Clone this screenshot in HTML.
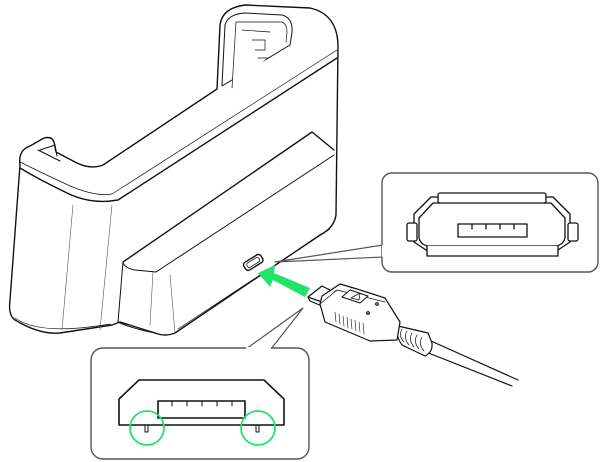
<!DOCTYPE html>
<html><head><meta charset="utf-8"><style>
html,body{margin:0;padding:0;background:#fff;}
svg{display:block;}
</style></head><body>
<svg width="600" height="462" viewBox="0 0 600 462" xmlns="http://www.w3.org/2000/svg" fill="none" stroke="#111" stroke-linejoin="round" stroke-linecap="round">
<!-- cradle -->
<g stroke-width="1.4" fill="#fff">
<path d="M20,165 Q18,150 30,146 L44,138 Q52,136 54,142 L56,152 L75,162 Q90,170 103,165 L217,89 L220,25 Q222,8 245,5 L310,8 Q337,14 338,45 L336,215 Q334,228 320,235 L175,333 Q165,337 155,333 L120,322 L112,325 L60,333 Q40,335 15,320 Q8,315 10,300 Z"/>
<!-- back arm slot -->
<path d="M222,85 L225,25 Q228,14 245,13 L282,15 Q293,18 292,32 L290,45 L222,86" stroke-width="1"/>
<path d="M232,88 L236,22 L282,22 Q287,24 287,32 L286,42" stroke-width="0.7"/>
<path d="M242,30 L270,32 M252,40 L265,40 L265,50 L255,50 M258,58 L268,58" stroke-width="0.7"/>
<!-- rim lines -->
<path d="M20,168 Q40,180 65,192 Q90,205 118,200 L337,58" fill="none"/>
<path d="M20,162 Q40,172 68,185 Q95,197 112,194 L337,50" stroke-width="0.7" fill="none"/>
<path d="M40,150 L55,145 L57,156" stroke-width="1" fill="none"/>
<path d="M38,150 L60,161" stroke-width="1" fill="none"/>
<!-- lower block -->
<path d="M123,262 L312,132 L334,150" fill="none"/>
<path d="M123,262 Q124,268 135,270 L156,272 L334,155" stroke-width="1" fill="none"/>
<path d="M123,262 L118,322 Q130,328 155,333" stroke-width="1" fill="none"/>
<!-- vertical lines -->
<path d="M73,205 L62,330 M112,205 L100,330 M153,272 L150,325 M170,275 L175,333" stroke-width="0.6" stroke="#555"/>
<path d="M15,318 Q40,336 110,324" stroke-width="0.7" fill="none"/>
<path d="M178,329 L330,229" stroke-width="0.7"/>
<!-- socket -->
<rect x="243" y="258" width="20" height="9" rx="3" transform="rotate(-32 253 262)" stroke-width="1.4"/>
<rect x="246" y="260" width="14" height="5" rx="2" transform="rotate(-32 253 262)" stroke-width="0.8"/>
</g>
<!-- green arrow -->
<polygon points="310,288 305,297 273,280 270,287 258,273 275,265 274,273" fill="#22e36c" stroke="none"/>
<!-- callout top right -->
<path d="M383,245 L275,262 L383,257" stroke="#555" stroke-width="1.2" fill="#fff"/>
<rect x="382" y="173" width="216" height="99" rx="10" stroke="#555" stroke-width="1.4" fill="#fff"/>
<path d="M383,246 L383,256" stroke="#fff" stroke-width="2"/>
<g stroke-width="1.3" fill="#fff">
<path d="M438,197 L431,197 L414,214 L414,242 L426,250 L558,250 L570,242 L570,214 L553,197 L546,197"/>
<path d="M440,203 L433,203 L419,218 L419,238 Q421,245 428,246 L556,246 Q563,245 565,238 L565,218 L551,203 L544,203"/>
<rect x="438" y="193" width="108" height="10" rx="2"/>
<rect x="407" y="223" width="10" height="18" rx="2"/>
<rect x="568" y="223" width="10" height="18" rx="2"/>
<path d="M427,246 L427,256 L558,256 L558,246"/>
<rect x="458" y="224" width="69" height="13"/>
<path d="M472,224 V229 M486,224 V229 M500,224 V229 M514,224 V229" fill="none"/>
</g>
<!-- callout bottom -->
<path d="M246,349 L303,308 L271,349" stroke="#555" stroke-width="1.2" fill="#fff"/>
<rect x="91" y="348" width="218" height="111" rx="12" stroke="#555" stroke-width="1.4" fill="#fff"/>
<path d="M247,348 L270,348" stroke="#fff" stroke-width="2"/>
<g stroke-width="1.6">
<path d="M139,380 L264,380 L284,399 L284,425 L119,425 L119,399 Z"/>
<rect x="158" y="401" width="87" height="17"/>
<path d="M172,401 V406 M187,401 V406 M202,401 V406 M217,401 V406 M232,401 V406" stroke-width="1"/>
<rect x="145" y="425" width="3" height="7" stroke-width="1"/>
<rect x="256" y="425" width="3" height="7" stroke-width="1"/>
</g>
<circle cx="147" cy="428" r="17" stroke="#22e36c" stroke-width="1.8"/>
<circle cx="258" cy="428" r="17" stroke="#22e36c" stroke-width="1.8"/>
<!-- plug -->
<g stroke-width="1.2" fill="#fff">
<path d="M431,341 L518,380 M426,352 L512,386" />
<path d="M398,326 Q395,335 402,345 L425,356 Q433,352 432,343 L428,333 Z"/>
<path d="M402,329 Q398,336 404,342 M407,331 Q403,338 409,345 M412,333 Q408,340 414,347 M417,335 Q413,342 419,349 M422,337 Q418,344 424,351" stroke-width="0.7"/>
<path d="M308,297 L322,286 L334,292 L322,302 Z"/>
<path d="M308,297 L310,301 L322,306"/>
<path d="M322,296 L340,284 L357,289 L385,298 L400,322 L397,340 L370,341 L325,322 L320,304 Z"/>
<path d="M320,304 L337,290 L385,302 M337,290 L334,292" stroke-width="0.8"/>
<path d="M342,297 L350,290 L368,296 L360,303 Z" stroke-width="1"/>
<path d="M351,298 L360,293 L359,300 Z" stroke-width="0.8"/>
<circle cx="377" cy="304" r="1.3"/><circle cx="368" cy="313" r="1.3"/>
<path d="M335,312 L336,322 M339,314 L340,324 M343,316 L344,326 M347,317 L348,328 M351,319 L352,329 M355,320 L356,331 M359,322 L360,332 M363,323 L364,334" stroke-width="0.6"/>
</g>
</svg>
</body></html>
